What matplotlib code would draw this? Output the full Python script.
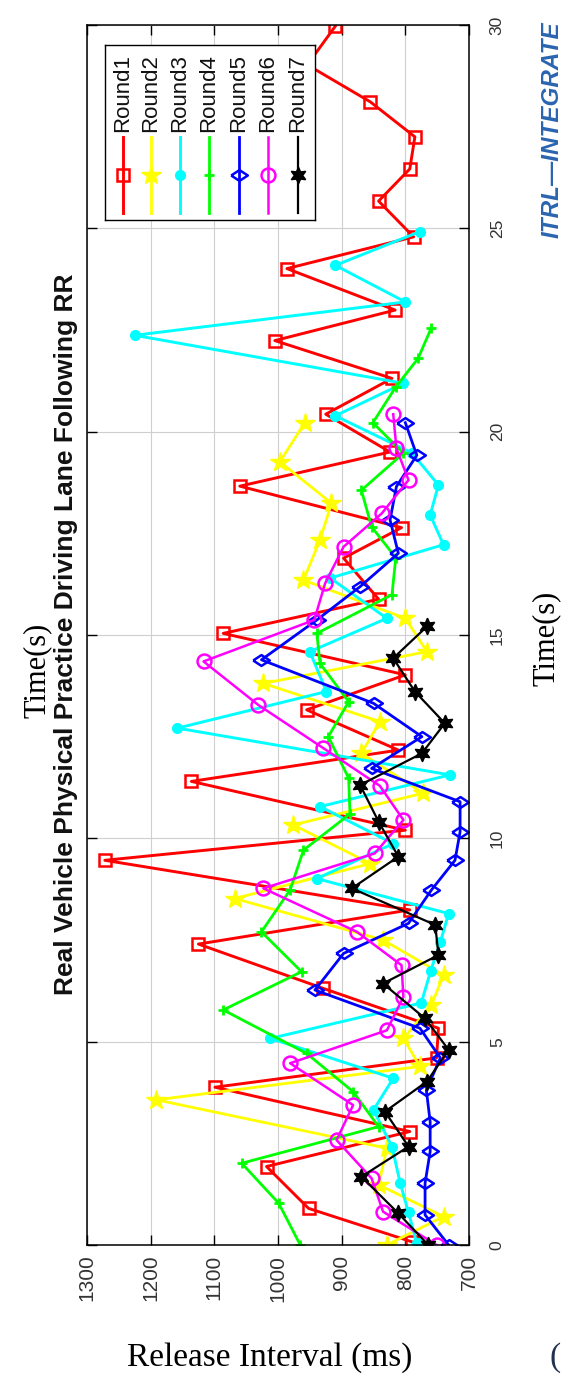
import matplotlib
matplotlib.use("Agg")
import matplotlib.pyplot as plt

# ── Data ────────────────────────────────────────────────────────────────────
rounds = ["Round1", "Round2", "Round3", "Round4", "Round5", "Round6", "Round7"]

t_r1 = [0.08, 0.90, 1.93, 2.79, 3.88, 4.60, 5.33, 6.31, 7.40, 8.24, 9.46, 10.20,
        11.40, 12.17, 13.16, 14.02, 15.04, 15.88, 16.89, 17.64, 18.66, 19.50,
        20.43, 21.31, 22.24, 22.99, 24.01, 24.79, 25.67, 26.46, 27.25, 28.11,
        29.02, 29.97]
v_r1 = [790, 952, 1018, 793, 1099, 751, 748, 929, 1125, 793, 1272, 800,
        1136, 811, 955, 800, 1086, 842, 897, 806, 1060, 824,
        925, 821, 1005, 816, 986, 787, 842, 793, 785, 855,
        954, 910]

t_r2 = [0.00, 0.70, 1.48, 2.38, 3.57, 4.39, 5.08, 5.90, 6.64, 7.50, 8.52, 9.38,
        10.33, 11.11, 12.09, 12.87, 13.81, 14.59, 15.41, 16.35, 17.34, 18.24,
        19.26, 20.22]
v_r2 = [829, 740, 842, 829, 1191, 777, 803, 759, 740, 835, 1068, 855,
        976, 772, 869, 840, 1023, 766, 800, 960, 934, 916,
        997, 958]

t_r3 = [0.04, 0.80, 1.52, 2.42, 3.32, 4.10, 5.08, 5.95, 6.75, 7.45, 8.15, 9.01,
        9.87, 10.78, 11.56, 12.71, 13.61, 14.59, 15.41, 16.40, 17.22, 17.95,
        18.69, 19.48, 20.39, 21.19, 22.37, 23.19, 24.09, 24.92]
v_r3 = [782, 795, 808, 821, 850, 819, 1012, 775, 760, 745, 732, 939,
        819, 934, 730, 1158, 924, 950, 829, 918, 740, 761,
        748, 790, 910, 803, 1225, 800, 910, 777]

t_r4 = [0.00, 1.03, 2.01, 2.91, 3.77, 4.71, 5.78, 6.72, 7.70, 8.73, 9.71, 10.60,
        11.48, 12.50, 13.36, 14.30, 15.04, 15.99, 16.90, 17.66, 18.56, 19.47,
        20.22, 21.10, 21.80, 22.56]
v_r4 = [965, 999, 1057, 842, 882, 955, 1086, 963, 1026, 981, 960, 887,
        889, 921, 889, 934, 939, 821, 815, 853, 869, 803,
        851, 815, 780, 759]

t_r5 = [0.00, 0.74, 1.52, 2.30, 3.03, 3.81, 4.60, 5.33, 6.27, 7.17, 7.91, 8.73,
        9.46, 10.16, 10.90, 11.72, 12.50, 13.32, 14.39, 15.37, 16.19, 17.01,
        17.83, 18.65, 19.42, 20.22]
v_r5 = [732, 769, 769, 761, 761, 767, 745, 777, 942, 897, 795, 759,
        722, 714, 714, 853, 774, 850, 1026, 939, 871, 811,
        824, 814, 782, 800]

t_r6 = [0.00, 0.82, 1.64, 2.58, 3.44, 4.47, 5.28, 6.10, 6.88, 7.70, 8.77, 9.63,
        10.45, 11.29, 12.22, 13.28, 14.35, 15.37, 16.27, 17.17, 17.99, 18.81,
        19.59, 20.43]
v_r6 = [751, 835, 853, 908, 882, 981, 829, 803, 806, 876, 1023, 848,
        803, 840, 929, 1031, 1117, 943, 926, 897, 837, 795,
        814, 819]

t_r7 = [0.00, 0.78, 1.68, 2.42, 3.28, 4.02, 4.80, 5.57, 6.43, 7.13, 7.87, 8.77,
        9.55, 10.41, 11.31, 12.09, 12.83, 13.61, 14.43, 15.21]
v_r7 = [764, 811, 869, 795, 832, 766, 732, 769, 835, 748, 753, 884,
        811, 842, 871, 774, 738, 785, 819, 766]

times = [t_r1, t_r2, t_r3, t_r4, t_r5, t_r6, t_r7]
values = [v_r1, v_r2, v_r3, v_r4, v_r5, v_r6, v_r7]

value_ticks = [700, 800, 900, 1000, 1100, 1200, 1300]
time_ticks = [0, 5, 10, 15, 20, 25, 30]

# ── Styles ───────────────────────────────────────────────────────────────────
W, H = 562, 1383
SANS = ["Liberation Sans", "DejaVu Sans"]
SERIF = ["Liberation Serif", "DejaVu Serif"]

wide_diamond = [(-1, 0), (0, 0.65), (1, 0), (0, -0.65), (-1, 0)]
styles = [
    dict(color="#ff0000", marker="s", ms=9, mfc="none", mew=1.8, lw=2.1),
    dict(color="#ffff00", marker="*", ms=15, mfc="#ffff00", mew=1.0, lw=2.0),
    dict(color="#00ffff", marker="o", ms=7, mfc="#00ffff", mew=1.0, lw=2.1),
    dict(color="#00ff00", marker="+", ms=7, mew=2.0, lw=2.0),
    dict(color="#0000ff", marker=wide_diamond, ms=12, mfc="none", mew=1.8, lw=2.0),
    dict(color="#ff00ff", marker="o", ms=10, mfc="none", mew=1.8, lw=1.8),
    dict(color="#000000", marker=(6, 1, 0), ms=12, mfc="#000000", mew=1.0, lw=1.6),
]


def fx(px):
    return px / W


def fy(py):
    return 1 - py / H


def main():
    fig = plt.figure(figsize=(W / 100, H / 100), dpi=100, facecolor="white")

    # axes frame in the reference: x 87..469 px, y 25..1245 px
    ax = fig.add_axes([fx(87), fy(1245), (469 - 87) / W, (1245 - 25) / H])
    for t, v, st in zip(times, values, styles):
        ax.plot(v, t, **st)

    ax.set_xlim(1300, 700)
    ax.set_ylim(0, 30)
    ax.set_xticks(value_ticks)
    ax.set_yticks(time_ticks)
    ax.grid(True, color="#cfcfcf", linewidth=0.8)
    ax.set_axisbelow(True)
    for sp in ax.spines.values():
        sp.set_linewidth(1.1)

    ax.tick_params(axis="both", direction="in", length=7, width=1.0,
                   top=True, bottom=True, left=True, right=True)
    ax.tick_params(axis="x", labelsize=15, pad=7, labelcolor="#333333")
    ax.tick_params(axis="y", labelleft=False, labelright=True, labelsize=12.5,
                   pad=15, labelcolor="#333333")
    for lab in ax.get_xticklabels():
        lab.set_rotation(90)
        lab.set_family(SANS)
        lab.set_va("top")
        lab.set_ha("center")
    for lab in ax.get_yticklabels():
        lab.set_rotation(90)
        lab.set_family(SANS)
        lab.set_va("center")

    # legend drawn by hand, since every entry is rotated
    lx0, ly0, lx1, ly1 = 105, 45, 315, 220
    lax = fig.add_axes([fx(lx0), fy(ly1), (lx1 - lx0) / W, (ly1 - ly0) / H])
    lax.set_xlim(lx0, lx1)
    lax.set_ylim(ly1, ly0)
    lax.set_xticks([])
    lax.set_yticks([])
    for sp in lax.spines.values():
        sp.set_linewidth(1.0)
    cols = [123, 151, 180, 209, 239, 268, 298]
    for cx, name, st in zip(cols, rounds, styles):
        lst = dict(st)
        lax.plot([cx, cx], [137, 213], color=lst["color"], lw=lst["lw"])
        lst["lw"] = 0
        lax.plot([cx], [175], **lst)
        lax.text(cx, 132, name, rotation=90, ha="center", va="bottom",
                 fontsize=16, family=SANS, color="#111111")

    fig.text(fx(66), fy(634),
             "Real Vehicle Physical Practice Driving Lane Following RR",
             rotation=90, ha="center", va="center", fontsize=19,
             fontweight="bold", family=SANS, color="#111111")

    # surrounding page text
    fig.text(fx(37), fy(670), "Time(s)", rotation=90, ha="center", va="center",
             fontsize=22, family=SERIF)
    fig.text(fx(546), fy(638), "Time(s)", rotation=90, ha="center", va="center",
             fontsize=22, family=SERIF)
    fig.text(fx(270), fy(1358), "Release Interval (ms)", ha="center",
             va="center", fontsize=24, family=SERIF)
    fig.text(fx(552), fy(238), "ITRL\u2014INTEGRATE", rotation=90, ha="center",
             va="bottom", fontsize=17.5, fontweight="bold", style="italic",
             family=SANS, color="#2a64b0")
    fig.text(fx(561), fy(1358), "(", ha="right", va="center", fontsize=24,
             family=SERIF, color="#22314f")

    fig.savefig("out.png", dpi=100, facecolor="white")
    plt.close(fig)


if __name__ == "__main__":
    main()
